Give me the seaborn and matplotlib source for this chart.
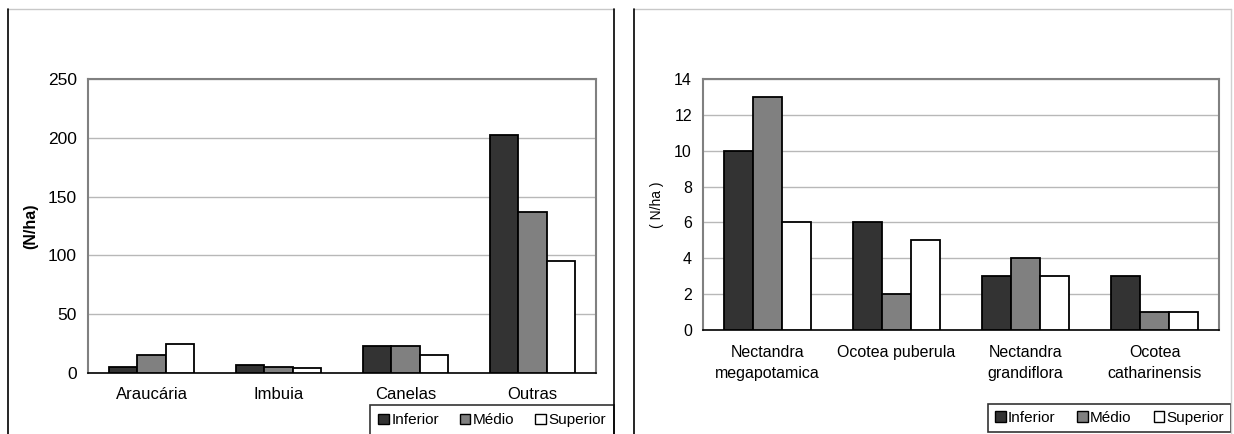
import numpy as np
import pandas as pd
import seaborn as sns
import matplotlib.pyplot as plt
from matplotlib.patches import Rectangle
from matplotlib.lines import Line2D

# data
niveis = ["Inferior", "Médio", "Superior"]
grupos = ["Araucária", "Imbuia", "Canelas", "Outras"]
inferior_g = [5, 6.5, 23, 202]
medio_g = [15, 5, 23, 137]
superior_g = [24.5, 4, 15, 95]

especies = ["Nectandra\nmegapotamica", "Ocotea puberula", "Nectandra\ngrandiflora", "Ocotea\ncatharinensis"]
inferior_e = [10, 6, 3, 3]
medio_e = [13, 2, 4, 1]
superior_e = [6, 5, 3, 1]

cores = ["#333333", "#808080", "#ffffff"]

sns.set_style("white")
plt.rcParams["font.family"] = ["Liberation Sans", "DejaVu Sans"]
plt.rcParams["text.color"] = "black"
plt.rcParams["xtick.color"] = "black"
plt.rcParams["ytick.color"] = "black"
plt.rcParams["axes.labelcolor"] = "black"

W, H = 1234, 434
fig = plt.figure(figsize=(W / 100, H / 100), dpi=100)


def fpos(x0, y0, x1, y1):
    return [x0 / W, 1 - y1 / H, (x1 - x0) / W, (y1 - y0) / H]


def long_df(cats, a, b, c):
    rows = []
    for vals, nv in zip([a, b, c], niveis):
        for cat, v in zip(cats, vals):
            rows.append({"cat": cat, "nivel": nv, "val": v})
    return pd.DataFrame(rows)


def draw(ax, df, cats, ymax, ystep, tick_fs, cat_fs):
    sns.barplot(data=df, x="cat", y="val", hue="nivel", order=cats, hue_order=niveis,
                palette=cores, edgecolor="black", linewidth=1.3, width=0.67, ax=ax,
                legend=False, zorder=3)
    ax.set_ylim(0, ymax)
    ax.set_xlim(-0.5, len(cats) - 0.5)
    ax.set_yticks(np.arange(0, ymax + 0.1, ystep))
    ax.yaxis.grid(True, color="#b8b8b8", linewidth=1, zorder=0)
    ax.set_axisbelow(True)
    for s in ["top", "right", "left"]:
        ax.spines[s].set_color("#808080")
        ax.spines[s].set_linewidth(1.5)
    ax.spines["bottom"].set_color("black")
    ax.spines["bottom"].set_linewidth(1.2)
    ax.set_xticks(np.arange(-0.5, len(cats), 1.0), minor=True)
    ax.tick_params(axis="x", which="minor", length=5, width=1, color="#404040", direction="out")
    ax.tick_params(axis="x", which="major", length=0, labelsize=cat_fs, pad=12)
    ax.tick_params(axis="y", length=5, width=1, color="black", direction="out", labelsize=tick_fs, pad=3)
    ax.set_xlabel("")


axL = fig.add_axes(fpos(88, 79, 596, 373))
draw(axL, long_df(grupos, inferior_g, medio_g, superior_g), grupos, 250, 50, 12.5, 12)
axL.set_ylabel("(N/ha)", fontsize=11.5, fontweight="bold", labelpad=7)
axL.tick_params(axis="x", which="major", pad=10)

axR = fig.add_axes(fpos(703, 79, 1219, 330))
draw(axR, long_df(especies, inferior_e, medio_e, superior_e), especies, 14, 2, 11.5, 11.5)
axR.set_ylabel("( N/ha )", fontsize=10, labelpad=7)
axR.tick_params(axis="x", which="major", pad=11)
for t in axR.get_xticklabels():
    t.set_linespacing(1.45)

# panel frames
fig.add_artist(Line2D([8 / W, 614 / W], [1 - 9 / H, 1 - 9 / H], color="#c8c8c8", lw=1))
fig.add_artist(Line2D([8 / W, 8 / W], [0, 1 - 9 / H], color="black", lw=1.2))
fig.add_artist(Line2D([614 / W, 614 / W], [0, 1 - 9 / H], color="black", lw=1.2))
fig.add_artist(Line2D([634 / W, 1231 / W], [1 - 9 / H, 1 - 9 / H], color="#c8c8c8", lw=1))
fig.add_artist(Line2D([634 / W, 634 / W], [0, 1 - 9 / H], color="black", lw=1.2))
fig.add_artist(Line2D([1231 / W, 1231 / W], [0, 1 - 9 / H], color="#d0d0d0", lw=1))

handles = [Rectangle((0, 0), 1, 1, facecolor=c, edgecolor="black", linewidth=1) for c in cores]


def legenda(ax, x0, y0, x1, y1, fs, pad):
    leg = ax.legend(handles, niveis, loc="upper left", ncol=3, mode="expand",
                    bbox_to_anchor=(x0 / W, 1 - y1 / H, (x1 - x0) / W, (y1 - y0) / H),
                    bbox_transform=fig.transFigure, frameon=True, fancybox=False,
                    edgecolor="black", fontsize=fs, handlelength=0.7, handleheight=0.7,
                    handletextpad=0.15, borderpad=pad, borderaxespad=0, columnspacing=1.0)
    leg.get_frame().set_linewidth(1.2)
    leg.set_in_layout(False)
    return leg


legenda(axL, 370, 405, 614, 405, 11, 0.55)
legenda(axR, 988, 404, 1231, 404, 11, 0.45)

fig.savefig("out.png", dpi=100)
